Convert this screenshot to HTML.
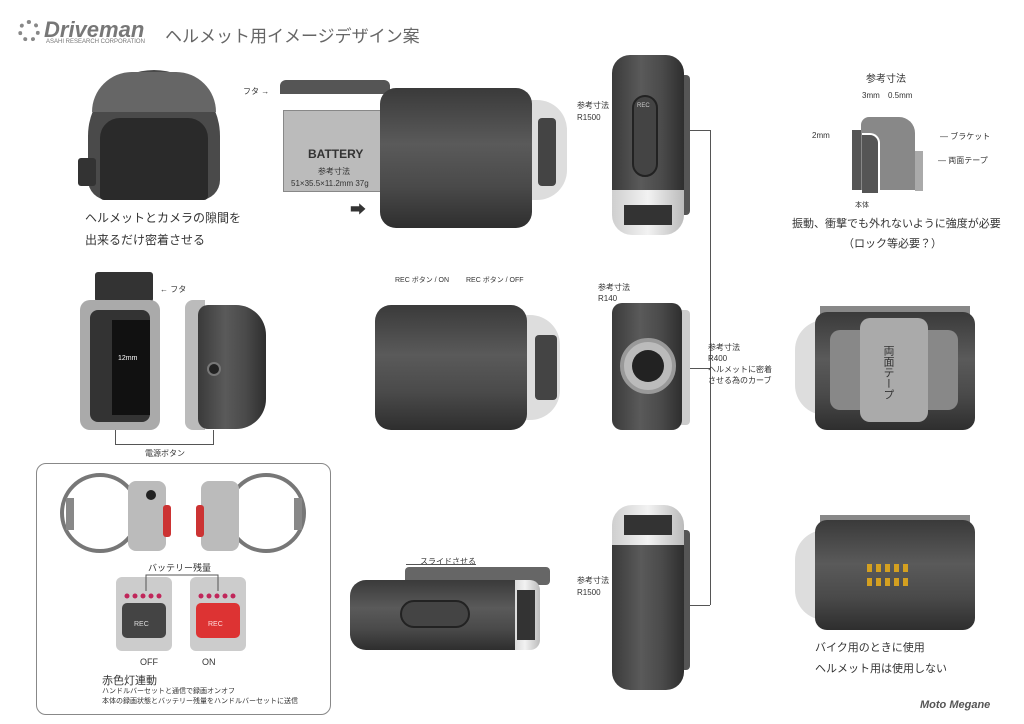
<!DOCTYPE html>
<html><head><meta charset="utf-8">
<style>
*{margin:0;padding:0;box-sizing:border-box}
body{width:1024px;height:724px;background:#fff;position:relative;overflow:hidden;font-family:"Liberation Sans","Noto Sans CJK JP",sans-serif;color:#333}
.a{position:absolute}
.t{position:absolute;white-space:nowrap}
.dk{background:linear-gradient(90deg,#3a3a3a,#5a5a5a 40%,#4a4a4a 70%,#2e2e2e)}
.dkv{background:linear-gradient(180deg,#3a3a3a,#5a5a5a 40%,#4a4a4a 70%,#2e2e2e)}
.lt{background:linear-gradient(90deg,#cfcfcf,#f2f2f2,#bbb)}
.ltv{background:linear-gradient(180deg,#cfcfcf,#f2f2f2,#bbb)}
.ln{position:absolute;background:#555}
</style></head><body>
<!-- header -->
<div class="a" style="left:18px;top:20px;width:22px;height:22px;border:4px dotted #888;border-radius:50%"></div>
<div class="t" style="left:44px;top:17px;font-size:22px;font-weight:bold;font-style:italic;color:#777">Driveman</div>
<div class="t" style="left:46px;top:39px;font-size:6px;color:#777">ASAHI RESEARCH CORPORATION</div>
<div class="t" style="left:165px;top:22px;font-size:17px;color:#666">ヘルメット用イメージデザイン案</div>

<!-- helmet -->
<div class="a" style="left:88px;top:70px;width:132px;height:130px;background:#4a4a4a;border-radius:66px 66px 20px 20px"></div>
<div class="a" style="left:92px;top:72px;width:124px;height:40px;background:#666;border-radius:62px 62px 0 0"></div>
<div class="a" style="left:100px;top:118px;width:108px;height:82px;background:#2a2a2a;border-radius:20px 20px 4px 4px"></div>
<div class="a" style="left:78px;top:158px;width:18px;height:28px;background:#333;border-radius:3px"></div>
<div class="t" style="left:85px;top:209px;font-size:12px">ヘルメットとカメラの隙間を</div>
<div class="t" style="left:85px;top:231px;font-size:12px">出来るだけ密着させる</div>

<!-- battery view -->
<div class="t" style="left:243px;top:86px;font-size:8px">フタ →</div>
<div class="a" style="left:280px;top:80px;width:110px;height:14px;background:#555;border-radius:6px 6px 0 0"></div>
<div class="a" style="left:283px;top:110px;width:100px;height:82px;background:#bbb;border:1px solid #888"></div>
<div class="t" style="left:308px;top:147px;font-size:12px;font-weight:bold;color:#333">BATTERY</div>
<div class="t" style="left:318px;top:166px;font-size:8px">参考寸法</div>
<div class="t" style="left:291px;top:179px;font-size:8px">51×35.5×11.2mm 37g</div>
<div class="t" style="left:350px;top:196px;font-size:16px">➡</div>
<div class="a" style="left:527px;top:100px;width:40px;height:100px;background:#ddd;border-radius:0 30px 30px 0"></div>
<div class="a" style="left:538px;top:118px;width:18px;height:68px;background:#444;border-radius:4px"></div>
<div class="a dkv" style="left:380px;top:88px;width:152px;height:140px;border-radius:16px"></div>

<!-- top vertical camera -->
<div class="a" style="left:665px;top:75px;width:25px;height:140px;background:#555;border-radius:4px"></div>
<div class="a dk" style="left:612px;top:55px;width:72px;height:140px;border-radius:18px 18px 0 0"></div>
<div class="a lt" style="left:612px;top:190px;width:72px;height:45px;border-radius:0 0 20px 20px"></div>
<div class="a" style="left:624px;top:205px;width:48px;height:20px;background:#333"></div>
<div class="a" style="left:632px;top:95px;width:26px;height:82px;border:2px solid #222;border-radius:13px;background:#444"></div>
<div class="t" style="left:637px;top:103px;font-size:6px;color:#ccc">REC</div>
<div class="t" style="left:577px;top:100px;font-size:8px">参考寸法</div>
<div class="t" style="left:577px;top:113px;font-size:8px">R1500</div>

<!-- dimension diagram -->
<div class="t" style="left:866px;top:70px;font-size:10px">参考寸法</div>
<div class="t" style="left:862px;top:91px;font-size:8px">3mm</div>
<div class="t" style="left:888px;top:91px;font-size:8px">0.5mm</div>
<div class="t" style="left:812px;top:131px;font-size:8px">2mm</div>
<div class="a" style="left:852px;top:130px;width:40px;height:60px;background:#555"></div>
<div class="a" style="left:861px;top:117px;width:54px;height:73px;background:#888;border-radius:8px 16px 0 0"></div>
<div class="a" style="left:862px;top:133px;width:18px;height:60px;background:#555;border-radius:0 10px 0 0;border-right:2px solid #fff;border-top:2px solid #fff"></div>
<div class="a" style="left:915px;top:151px;width:8px;height:40px;background:#aaa"></div>
<div class="t" style="left:940px;top:131px;font-size:8px">— ブラケット</div>
<div class="t" style="left:938px;top:155px;font-size:8px">— 両面テープ</div>
<div class="t" style="left:855px;top:200px;font-size:7px">本体</div>
<div class="t" style="left:792px;top:215px;font-size:11px">振動、衝撃でも外れないように強度が必要</div>
<div class="t" style="left:843px;top:235px;font-size:11px">（ロック等必要？）</div>

<!-- side views -->
<div class="a" style="left:95px;top:272px;width:58px;height:30px;background:#333;border-radius:3px"></div>
<div class="t" style="left:160px;top:284px;font-size:8px">← フタ</div>
<div class="a" style="left:80px;top:300px;width:80px;height:130px;background:#aaa;border-radius:10px"></div>
<div class="a" style="left:90px;top:310px;width:60px;height:112px;background:#333;border-radius:8px"></div>
<div class="a" style="left:112px;top:320px;width:38px;height:95px;background:#111"></div>
<div class="t" style="left:118px;top:355px;font-size:7px;color:#fff">12mm</div>
<div class="a" style="left:185px;top:300px;width:20px;height:130px;background:#bbb;border-radius:8px 0 0 8px"></div>
<div class="a dk" style="left:198px;top:305px;width:68px;height:124px;border-radius:10px 30px 30px 10px"></div>
<div class="a" style="left:207px;top:362px;width:14px;height:14px;border-radius:50%;background:#222;border:2px solid #777"></div>
<div class="ln" style="left:115px;top:430px;width:1px;height:14px"></div>
<div class="ln" style="left:213px;top:430px;width:1px;height:14px"></div>
<div class="ln" style="left:115px;top:444px;width:99px;height:1px"></div>
<div class="t" style="left:145px;top:448px;font-size:8px">電源ボタン</div>

<!-- middle camera -->
<div class="t" style="left:395px;top:275px;font-size:7px">REC ボタン / ON</div>
<div class="t" style="left:466px;top:275px;font-size:7px">REC ボタン / OFF</div>
<div class="a" style="left:520px;top:315px;width:40px;height:105px;background:#ddd;border-radius:0 30px 30px 0"></div>
<div class="a" style="left:535px;top:335px;width:22px;height:65px;background:#444;border-radius:4px"></div>
<div class="a dkv" style="left:375px;top:305px;width:152px;height:125px;border-radius:16px"></div>

<!-- front view -->
<div class="t" style="left:598px;top:282px;font-size:8px">参考寸法</div>
<div class="t" style="left:598px;top:294px;font-size:8px">R140</div>
<div class="a" style="left:675px;top:310px;width:15px;height:115px;background:#ccc;border-radius:4px"></div>
<div class="a dk" style="left:612px;top:303px;width:70px;height:127px;border-radius:10px"></div>
<div class="a" style="left:620px;top:338px;width:56px;height:56px;border-radius:50%;background:#bbb;border:4px solid #999"></div>
<div class="a" style="left:632px;top:350px;width:32px;height:32px;border-radius:50%;background:#222"></div>

<!-- connector line -->
<div class="ln" style="left:710px;top:130px;width:1px;height:475px"></div>
<div class="ln" style="left:690px;top:130px;width:20px;height:1px"></div>
<div class="ln" style="left:690px;top:368px;width:20px;height:1px"></div>
<div class="ln" style="left:690px;top:605px;width:20px;height:1px"></div>
<div class="t" style="left:708px;top:342px;font-size:8px;line-height:11px">参考寸法<br>R400<br>ヘルメットに密着<br>させる為のカーブ</div>

<!-- right bottom view -->
<div class="a" style="left:795px;top:320px;width:30px;height:95px;background:#ddd;border-radius:30px 0 0 30px"></div>
<div class="a" style="left:820px;top:306px;width:150px;height:12px;background:#888"></div>
<div class="a dkv" style="left:815px;top:312px;width:160px;height:118px;border-radius:12px"></div>
<div class="a" style="left:830px;top:330px;width:128px;height:80px;background:#888;border-radius:10px"></div>
<div class="a" style="left:860px;top:318px;width:68px;height:104px;background:#aaa;border-radius:10px"></div>
<div class="t" style="left:880px;top:345px;font-size:11px;writing-mode:vertical-rl">両面テープ</div>

<!-- bottom box -->
<div class="a" style="left:36px;top:463px;width:295px;height:252px;border:1px solid #888;border-radius:10px"></div>
<svg class="a" style="left:36px;top:463px" width="295" height="252">
<circle cx="64" cy="50" r="38" fill="none" stroke="#777" stroke-width="4"/>
<rect x="30" y="35" width="8" height="32" fill="#888"/>
<rect x="92" y="18" width="38" height="70" rx="8" fill="#bbb"/>
<circle cx="115" cy="32" r="5" fill="#222"/>
<rect x="127" y="42" width="8" height="32" rx="3" fill="#c33"/>
<circle cx="230" cy="50" r="38" fill="none" stroke="#777" stroke-width="4"/>
<rect x="258" y="35" width="8" height="32" fill="#888"/>
<rect x="165" y="18" width="38" height="70" rx="8" fill="#bbb"/>
<rect x="160" y="42" width="8" height="32" rx="3" fill="#c33"/>
<rect x="80" y="114" width="56" height="74" rx="6" fill="#ccc"/>
<rect x="86" y="140" width="44" height="35" rx="5" fill="#444"/>
<rect x="154" y="114" width="56" height="74" rx="6" fill="#ccc"/>
<rect x="160" y="140" width="44" height="35" rx="5" fill="#d33"/>
<g fill="#c0265a"><circle cx="91" cy="133" r="2.5"/><circle cx="99" cy="133" r="2.5"/><circle cx="107" cy="133" r="2.5"/><circle cx="115" cy="133" r="2.5"/><circle cx="123" cy="133" r="2.5"/>
<circle cx="165" cy="133" r="2.5"/><circle cx="173" cy="133" r="2.5"/><circle cx="181" cy="133" r="2.5"/><circle cx="189" cy="133" r="2.5"/><circle cx="197" cy="133" r="2.5"/></g>
<polyline points="110,128 110,112 182,112 182,128" fill="none" stroke="#555" stroke-width="1"/>
</svg>
<div class="t" style="left:148px;top:561px;font-size:9px">バッテリー残量</div>
<div class="t" style="left:134px;top:621px;font-size:7px;color:#ddd">REC</div>
<div class="t" style="left:208px;top:621px;font-size:7px;color:#fdd">REC</div>
<div class="t" style="left:140px;top:657px;font-size:9px">OFF</div>
<div class="t" style="left:202px;top:657px;font-size:9px">ON</div>
<div class="t" style="left:102px;top:672px;font-size:11px">赤色灯連動</div>
<div class="t" style="left:102px;top:686px;font-size:7px">ハンドルバーセットと通信で録画オンオフ</div>
<div class="t" style="left:102px;top:696px;font-size:7px">本体の録画状態とバッテリー残量をハンドルバーセットに送信</div>

<!-- bottom middle horizontal camera -->
<div class="t" style="left:420px;top:556px;font-size:8px">スライドさせる</div>
<div class="ln" style="left:406px;top:564px;width:70px;height:1px"></div>
<div class="a" style="left:405px;top:567px;width:145px;height:18px;background:#666;border-radius:4px"></div>
<div class="a lt" style="left:510px;top:580px;width:30px;height:70px;border-radius:0 10px 10px 0"></div>
<div class="a" style="left:517px;top:590px;width:18px;height:50px;background:#333"></div>
<div class="a dkv" style="left:350px;top:580px;width:165px;height:70px;border-radius:16px 0 0 16px"></div>
<div class="a" style="left:400px;top:600px;width:70px;height:28px;border:2px solid #222;border-radius:14px;background:#444"></div>

<!-- bottom vertical camera -->
<div class="a" style="left:665px;top:530px;width:25px;height:140px;background:#555;border-radius:4px"></div>
<div class="a lt" style="left:612px;top:505px;width:72px;height:45px;border-radius:20px 20px 0 0"></div>
<div class="a" style="left:624px;top:515px;width:48px;height:20px;background:#333"></div>
<div class="a dk" style="left:612px;top:545px;width:72px;height:145px;border-radius:0 0 18px 18px"></div>
<div class="t" style="left:577px;top:575px;font-size:8px">参考寸法</div>
<div class="t" style="left:577px;top:588px;font-size:8px">R1500</div>

<!-- bottom right -->
<div class="a" style="left:795px;top:530px;width:30px;height:90px;background:#ddd;border-radius:30px 0 0 30px"></div>
<div class="a" style="left:820px;top:515px;width:150px;height:12px;background:#888"></div>
<div class="a dkv" style="left:815px;top:520px;width:160px;height:110px;border-radius:12px"></div>
<svg class="a" style="left:865px;top:562px" width="50" height="30"><g fill="#d4a020">
<rect x="2" y="2" width="5" height="8"/><rect x="11" y="2" width="5" height="8"/><rect x="20" y="2" width="5" height="8"/><rect x="29" y="2" width="5" height="8"/><rect x="38" y="2" width="5" height="8"/>
<rect x="2" y="16" width="5" height="8"/><rect x="11" y="16" width="5" height="8"/><rect x="20" y="16" width="5" height="8"/><rect x="29" y="16" width="5" height="8"/><rect x="38" y="16" width="5" height="8"/></g></svg>
<div class="t" style="left:815px;top:639px;font-size:11px">バイク用のときに使用</div>
<div class="t" style="left:815px;top:660px;font-size:11px">ヘルメット用は使用しない</div>
<div class="t" style="left:920px;top:699px;font-size:11px;font-weight:bold;font-style:italic;color:#555">Moto Megane</div>
</body></html>
